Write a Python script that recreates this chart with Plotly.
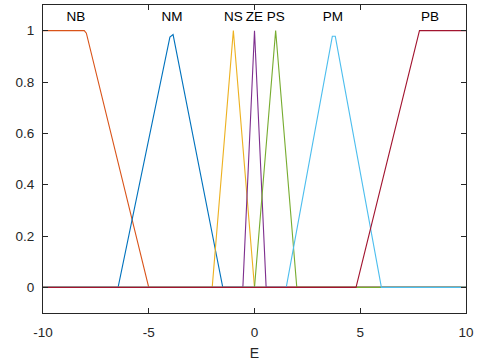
import plotly.graph_objects as go

names = ["NB", "NM", "NS", "ZE", "PS", "PM", "PB"]
colors = ["#D95319", "#0072BD", "#EDB120", "#7E2F8E", "#77AC30", "#4DBEEE", "#A2142F"]

nb_x = [-10, -8.05, -7.95, -5, 10]
nb_y = [1, 1, 0.99, 0, 0]
nm_x = [-10, -6.45, -4.0, -3.85, -1.5, 10]
nm_y = [0, 0, 0.975, 0.985, 0, 0]
ns_x = [-10, -2, -1, 0, 10]
ns_y = [0, 0, 1, 0, 0]
ze_x = [-10, -0.55, 0, 0.55, 10]
ze_y = [0, 0, 1, 0, 0]
ps_x = [-10, 0, 1, 2, 10]
ps_y = [0, 0, 1, 0, 0]
pm_x = [-10, 1.5, 3.68, 3.82, 6, 10]
pm_y = [0, 0, 0.978, 0.978, 0, 0]
pb_x = [-10, 4.8, 7.8, 10]
pb_y = [0, 0, 1, 1]

xs = [nb_x, nm_x, ns_x, ze_x, ps_x, pm_x, pb_x]
ys = [nb_y, nm_y, ns_y, ze_y, ps_y, pm_y, pb_y]

label_x = [-8.44, -3.9, -1.0, 0.0, 1.0, 3.7, 8.3]
label_y = 1.05

FONT = "Liberation Sans, Arial"

fig = go.Figure()
for n, c, x, y in zip(names, colors, xs, ys):
    fig.add_trace(go.Scatter(x=x, y=y, mode="lines", name=n,
                             line=dict(color=c, width=1.1), showlegend=False))

fig.add_trace(go.Scatter(x=label_x, y=[label_y] * len(names), mode="text",
                         text=names, textposition="middle center",
                         textfont=dict(family=FONT, size=13.5, color="#000000"),
                         showlegend=False))

axis_common = dict(showline=True, linecolor="#262626", linewidth=1, mirror="ticks",
                   ticks="inside", ticklen=5, tickcolor="#262626", showgrid=False,
                   zeroline=False, automargin=False,
                   tickfont=dict(family=FONT, size=13.5, color="#262626"))

fig.update_layout(
    width=479, height=361,
    margin=dict(l=43, r=13, t=5, b=48),
    plot_bgcolor="white", paper_bgcolor="white",
    xaxis=dict(range=[-10, 10], tickvals=[-10, -5, 0, 5, 10],
               ticktext=["-10", "-5", "0", "5", "10"],
               ticklabelstandoff=7,
               title=dict(text="E", font=dict(family=FONT, size=14, color="#262626"),
                          standoff=8),
               **axis_common),
    yaxis=dict(range=[-0.1, 1.1], tickvals=[0, 0.2, 0.4, 0.6, 0.8, 1],
               ticktext=["0", "0.2", "0.4", "0.6", "0.8", "1"],
               ticklabelstandoff=5,
               **axis_common),
)

fig.write_html("out.html", config={"displayModeBar": False},
               post_script="document.body.style.margin='0';")
